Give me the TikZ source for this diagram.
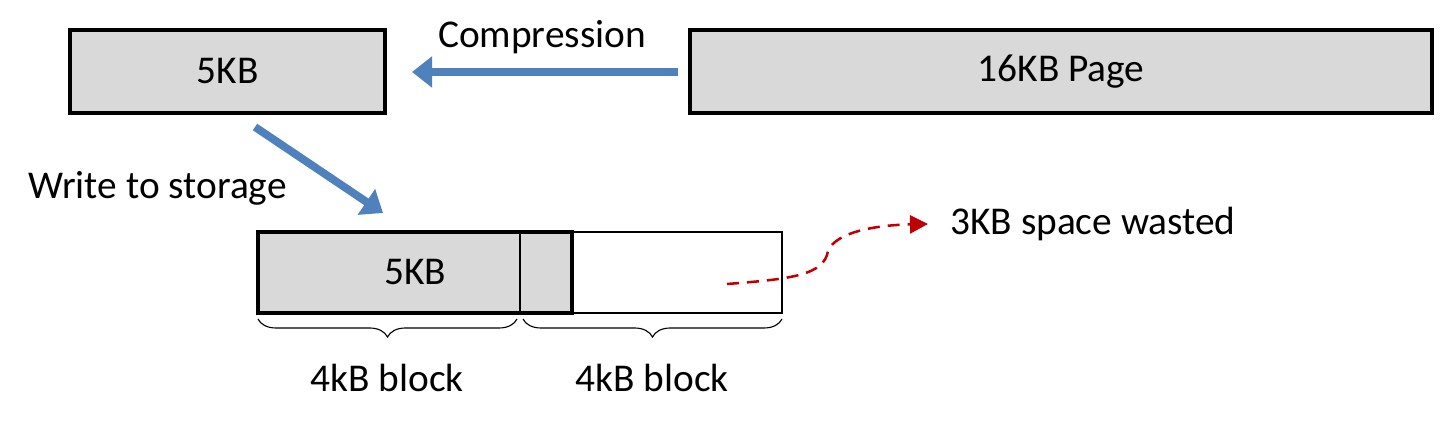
\documentclass[tikz,border=0pt]{standalone}
\usepackage{fontspec}
\setmainfont{Carlito}
\usetikzlibrary{arrows.meta,decorations.pathreplacing}
\definecolor{boxgray}{HTML}{D9D9D9}
\definecolor{flowblue}{HTML}{4F81BD}
\definecolor{wastered}{HTML}{C00000}
\tikzset{
  pagebox/.style={draw,line width=2.8pt,fill=boxgray,minimum height=2.075cm,inner sep=0pt},
  flow/.style={flowblue,line width=5.6pt,-{Triangle[length=0.5cm,width=0.75cm]}},
  blockbrace/.style={decorate,decoration={brace,mirror,amplitude=0.45cm},line width=0.8pt},
}
\begin{document}
\begin{tikzpicture}[font=\fontsize{28}{33}\selectfont]
 \useasboundingbox (0,0) rectangle (36,10.625);
 % top row
 \node[pagebox,minimum width=7.875cm] (small) at (5.6875,8.8375) {5KB};
 \node[pagebox,minimum width=18.55cm] (page) at (26.525,8.8375) {16KB Page};
 \coordinate (cfrom) at (16.95,8.825);
 \coordinate (cto) at (10.3,8.825);
 \draw[flow] (cfrom) -- (cto);
 \node (comp) at (13.55,9.7) {Compression};
 % write to storage
 \coordinate (wfrom) at (6.375,7.45);
 \coordinate (wto) at (9.575,5.3);
 \draw[flow] (wfrom) -- (wto);
 \node[right,inner sep=0pt] (write) at (0.7,5.925) {Write to storage};
 % storage blocks
 \draw[line width=1.4pt] (6.45,2.8) rectangle (19.55,4.825);
 \draw[line width=2.8pt,fill=boxgray] (6.45,2.8) rectangle (14.3,4.825);
 \draw[line width=1.4pt] (13.0,2.8) -- (13.0,4.825);
 \node (data) at (10.375,3.825) {5KB};
 \draw[blockbrace] (6.45,2.65) -- (12.925,2.65);
 \draw[blockbrace] (13.075,2.65) -- (19.55,2.65);
 \node (blka) at (9.675,1.175) {4kB block};
 \node (blkb) at (16.3,1.175) {4kB block};
 % wasted space
 \coordinate (wstart) at (18.175,3.525);
 \node[right,inner sep=0pt] (waste) at (23.75,5.025) {3KB space wasted};
 \draw[wastered,line width=1.8pt,dash pattern=on 0.3cm off 0.2cm,-{Triangle[length=0.45cm,width=0.45cm]}]
   (wstart) .. controls (19.8,3.65) and (20.6,3.75) .. (20.7,4.35)
   .. controls (20.9,4.85) and (22,5.0) .. (23.2,5.025);
\end{tikzpicture}
\end{document}
